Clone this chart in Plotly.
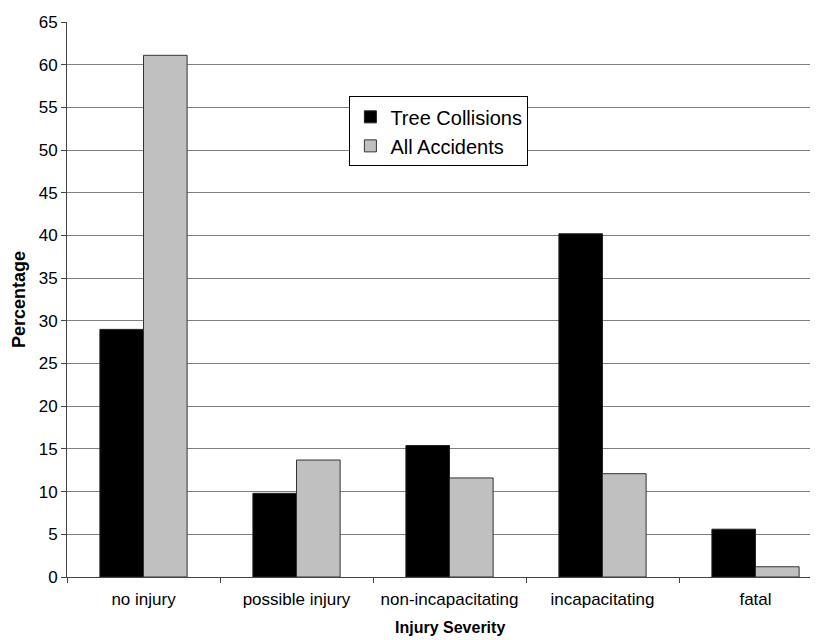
import plotly.graph_objects as go

categories = ["no injury", "possible injury", "non-incapacitating", "incapacitating", "fatal"]
tree_collisions = [29.0, 9.8, 15.4, 40.2, 5.6]
all_accidents = [61.1, 13.7, 11.6, 12.1, 1.2]
y_ticks = list(range(0, 70, 5))

fig = go.Figure()
fig.add_trace(go.Bar(x=categories, y=tree_collisions, name="Tree Collisions",
                     marker=dict(color="#000000", line=dict(color="#222222", width=1))))
fig.add_trace(go.Bar(x=categories, y=all_accidents, name="All Accidents",
                     marker=dict(color="#C0C0C0", line=dict(color="#333333", width=1))))

# page body adds an 8px offset, so the figure is sized to fill the window
fig.update_layout(
    width=810, height=632,
    margin=dict(l=59, r=0, t=14, b=63),
    paper_bgcolor="white", plot_bgcolor="white",
    barmode="group", bargap=0.43, bargroupgap=0,
    font=dict(family="Liberation Sans, Arial, sans-serif", size=17, color="#000000"),
    legend=dict(x=0.376, y=0.866, xanchor="left", yanchor="top",
                bordercolor="#000000", borderwidth=1, bgcolor="white",
                font=dict(size=20), tracegroupgap=0, itemwidth=30),
    showlegend=True,
)
# x-axis title centred on the full (partly clipped) category band, as in the reference
fig.add_annotation(text="<b>Injury Severity</b>", xref="paper", yref="paper",
                   x=0.51, y=0, xanchor="center", yanchor="top", yshift=-40,
                   showarrow=False, font=dict(size=16))
fig.update_xaxes(
    range=[-0.5, 4.5 - 14/153],
    showline=True, linecolor="#444444", linewidth=1,
    ticks="outside", tickson="boundaries", ticklen=5, tickcolor="#444444",
    ticklabelstandoff=7,
    tickfont=dict(size=17),
)
fig.update_yaxes(
    range=[0, 65], tickvals=y_ticks,
    showline=True, linecolor="#444444", linewidth=1,
    ticks="outside", ticklen=5, tickcolor="#444444",
    showgrid=True, gridcolor="#808080", gridwidth=1,
    zeroline=False,
    title=dict(text="<b>Percentage</b>", font=dict(size=18), standoff=8),
    tickfont=dict(size=17),
)

fig.write_html("out.html")
